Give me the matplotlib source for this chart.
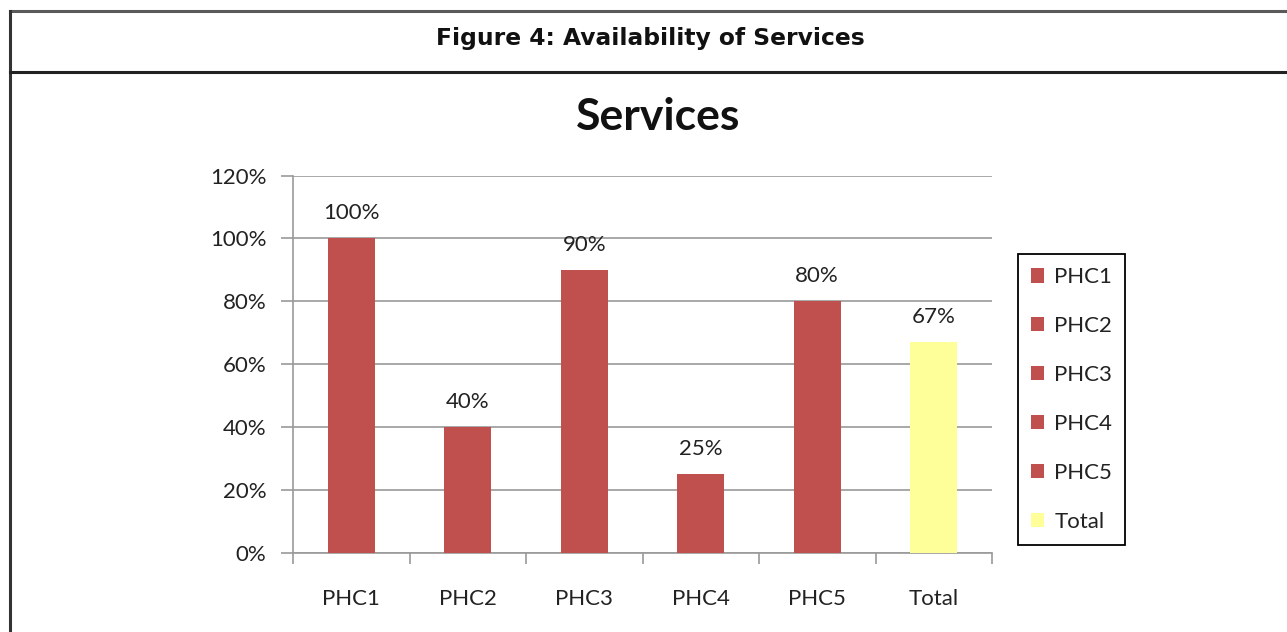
import matplotlib
matplotlib.use("Agg")
import matplotlib.pyplot as plt
from matplotlib.patches import Patch
from matplotlib.lines import Line2D

categories = ["PHC1", "PHC2", "PHC3", "PHC4", "PHC5", "Total"]
values = [100, 40, 90, 25, 80, 67]
colors = ["#C0504D", "#C0504D", "#C0504D", "#C0504D", "#C0504D", "#FFFF99"]
yticks = [0, 20, 40, 60, 80, 100, 120]

W, H = 1287, 632
fig = plt.figure(figsize=(W / 100, H / 100), dpi=100)
fig.patch.set_facecolor("white")

chart_font = ["Lato", "DejaVu Sans"]
fs = 16

# outer frame lines
fig.add_artist(Line2D([10 / W, 1.0], [1 - 11 / H, 1 - 11 / H], color="#5a5a5a", lw=2.2))
fig.add_artist(Line2D([10 / W, 10 / W], [0, 1 - 11 / H], color="#333333", lw=2.2))
fig.add_artist(Line2D([10 / W, 1.0], [1 - 72 / H, 1 - 72 / H], color="#222222", lw=2.2))

fig.text(650 / W, 1 - 38 / H, "Figure 4: Availability of Services", ha="center", va="center",
         fontsize=16.8, fontweight="bold", family="DejaVu Sans", color="#111111")

ax = fig.add_axes([293 / W, 1 - 553 / H, 699 / W, (553 - 175.5) / H])
x = list(range(len(categories)))
bars = ax.bar(x, values, width=0.4, color=colors, zorder=3)
ax.set_xlim(-0.5, len(categories) - 0.5)
ax.set_ylim(0, 120)
ax.set_yticks(yticks)
ax.set_yticklabels([f"{v}%" for v in yticks], family=chart_font, fontsize=fs, color="#222222")
ax.set_xticks([i - 0.5 for i in range(len(categories) + 1)], minor=False)
ax.set_xticklabels([])
ax.set_xticks(x, minor=True)
ax.set_xticklabels(categories, minor=True, family=chart_font, fontsize=fs, color="#222222")
ax.tick_params(axis="x", which="minor", length=0, pad=26)
ax.tick_params(axis="x", which="major", length=8, color="#9a9a9a", width=1.2)
ax.tick_params(axis="y", length=9, color="#9a9a9a", width=1.2, pad=10)
for s in ["top", "right"]:
    ax.spines[s].set_visible(False)
for s in ["left", "bottom"]:
    ax.spines[s].set_color("#9a9a9a")
    ax.spines[s].set_linewidth(1.2)
ax.yaxis.grid(True, color="#9a9a9a", lw=1.2, zorder=0)
ax.set_axisbelow(True)

for i, v in enumerate(values):
    ax.annotate(f"{v}%", (i, v), xytext=(0, 11), textcoords="offset points", ha="center",
                va="bottom", family=chart_font, fontsize=fs, color="#222222")

fig.text(658 / W, 1 - 117 / H, "Services", ha="center", va="center", fontsize=32,
         fontweight="bold", family=chart_font, color="#111111")

handles = [Patch(facecolor=c, edgecolor="none") for c in colors]
leg = fig.legend(handles, categories, loc="center", bbox_to_anchor=(1071.5 / W, 1 - 399.5 / H),
                 frameon=True, fancybox=False, framealpha=1,
                 prop={"family": chart_font, "size": fs},
                 handlelength=0.6, handleheight=0.6, handletextpad=0.45, labelspacing=1.3,
                 borderpad=0.6, borderaxespad=0)
leg.get_frame().set_edgecolor("#000000")
leg.get_frame().set_linewidth(1.3)
for t in leg.get_texts():
    t.set_color("#222222")

fig.savefig("out.png", dpi=100, facecolor="white")
